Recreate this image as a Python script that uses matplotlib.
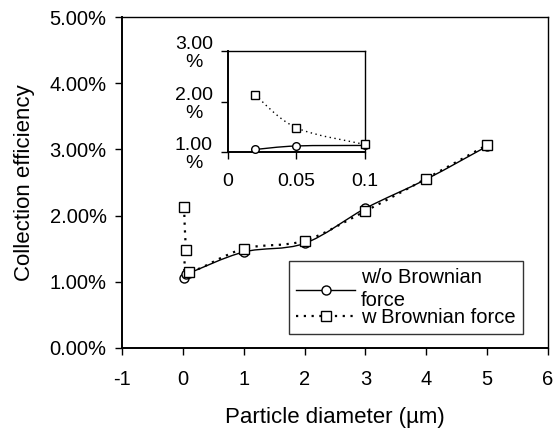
import matplotlib
matplotlib.use("Agg")
import matplotlib.pyplot as plt
import numpy as np
from matplotlib.path import Path
from matplotlib.patches import PathPatch
from matplotlib.ticker import FuncFormatter

plt.rcParams['font.family'] = ['Liberation Sans', 'DejaVu Sans']
plt.rcParams['axes.unicode_minus'] = False

# Data (collection efficiency in %)
diam = [0.02, 0.05, 0.1, 1, 2, 3, 4, 5]
eff_wo = [1.05, 1.12, 1.13, 1.45, 1.58, 2.11, 2.55, 3.05]
eff_w = [2.13, 1.48, 1.15, 1.50, 1.62, 2.07, 2.56, 3.07]

main_xticks = [-1, 0, 1, 2, 3, 4, 5, 6]
main_yticks = [0, 1, 2, 3, 4, 5]
inset_xticks = [0, 0.05, 0.1]
inset_xticklabels = ["0", "0.05", "0.1"]
inset_yticks = [1, 2, 3]
label_wo = "w/o Brownian\nforce"
label_w = "w Brownian force"


def smooth_path(x, y):
    x = np.asarray(x, float)
    y = np.asarray(y, float)
    P = np.column_stack([x, y])
    n = len(P)
    verts = [P[0]]
    codes = [Path.MOVETO]
    for i in range(n - 1):
        p0 = P[i - 1] if i > 0 else P[i]
        p1 = P[i]
        p2 = P[i + 1]
        p3 = P[i + 2] if i + 2 < n else P[i + 1]
        c1 = p1 + (p2 - p0) / 6.0
        c2 = p2 - (p3 - p1) / 6.0
        verts += [c1, c2, p2]
        codes += [Path.CURVE4] * 3
    return Path(verts, codes)


def draw_series(ax, x, y, ls, lw, marker, ms, zorder=3):
    patch = PathPatch(smooth_path(x, y), facecolor='none', edgecolor='black',
                      linestyle=ls, linewidth=lw, zorder=zorder)
    ax.add_patch(patch)
    ax.plot(x, y, linestyle='none', marker=marker, markersize=ms,
            markerfacecolor='white', markeredgecolor='black',
            markeredgewidth=1.0, zorder=zorder + 1, clip_on=False)


fig = plt.figure(figsize=(5.57, 4.30), dpi=100)
ax = fig.add_axes([0.219, 0.191, 0.765, 0.769])

draw_series(ax, diam, eff_wo, '-', 1.0, 'o', 6.5)
draw_series(ax, diam, eff_w, (0, (1, 2.5)), 1.6, 's', 7)

ax.set_xlim(-1, 6)
ax.set_ylim(0, 5)
ax.set_xticks(main_xticks)
ax.set_yticks(main_yticks)
ax.yaxis.set_major_formatter(FuncFormatter(lambda v, p: f"{v:.2f}%"))
ax.tick_params(direction='out', length=5, width=1, labelsize=14.5, pad=6)
ax.tick_params(axis='x', pad=11)
ax.set_xlabel("Particle diameter (\u00b5m)", fontsize=16)
ax.set_ylabel("Collection efficiency", fontsize=16)
ax.xaxis.set_label_coords(0.5, -0.178)
ax.yaxis.set_label_coords(-0.205, 0.5)
for s in ax.spines.values():
    s.set_linewidth(1.0)
ax.spines['left'].set_linewidth(1.4)
ax.spines['bottom'].set_linewidth(1.4)

# Legend handles
h1, = ax.plot([], [], '-', color='black', lw=1.0, marker='o', ms=6.5,
              mfc='white', mec='black')
h2, = ax.plot([], [], linestyle=(0, (1, 2.5)), color='black', lw=1.6,
              marker='s', ms=7, mfc='white', mec='black')
leg = ax.legend([h1, h2], [label_wo, label_w], loc='lower right',
                bbox_to_anchor=(0.94, 0.042), fontsize=14.5, frameon=True,
                fancybox=False, edgecolor='black', handlelength=2.9,
                handletextpad=0.3, borderpad=0.35, labelspacing=-0.12,
                borderaxespad=0.0)
leg.get_frame().set_linewidth(1.0)
for t in leg.get_texts():
    t.set_linespacing(1.3)

# Inset
axi = fig.add_axes([0.409, 0.6465, 0.246, 0.2345])
draw_series(axi, diam[:3], eff_wo[:3], '-', 1.0, 'o', 5.5)
draw_series(axi, diam[:3], eff_w[:3], (0, (1, 2.5)), 1.0, 's', 6)
axi.set_xlim(0, 0.1)
axi.set_ylim(1, 3)
axi.set_xticks(inset_xticks)
axi.set_xticklabels(inset_xticklabels)
axi.set_yticks(inset_yticks)
axi.set_yticklabels([f"{v:.2f}\n%" for v in inset_yticks], ha='center')
axi.tick_params(direction='out', length=5, width=1, labelsize=14)
axi.tick_params(axis='y', pad=19.5)
axi.tick_params(axis='x', pad=10)
for lab in axi.get_yticklabels():
    lab.set_linespacing(1.1)
for s in axi.spines.values():
    s.set_linewidth(1.0)
for sp in ['left', 'bottom']:
    axi.spines[sp].set_linewidth(1.4)

fig.savefig("out.png", dpi=100)
